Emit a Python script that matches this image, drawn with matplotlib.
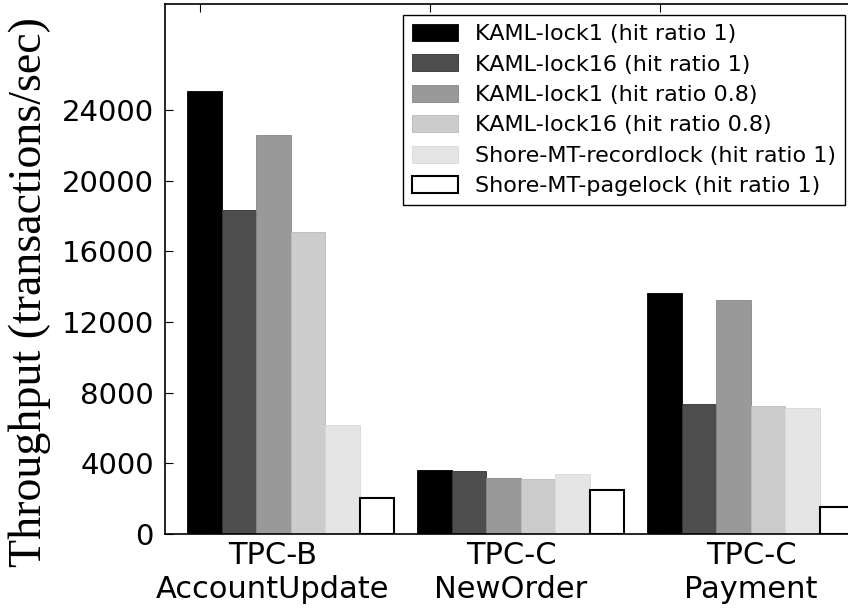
import matplotlib.pyplot as plt
import numpy as np

# workloads on the x axis
groups = ['TPC-B\nAccountUpdate', 'TPC-C\nNewOrder', 'TPC-C\nPayment']

# throughput (transactions/sec) per configuration
kaml_lock1_hit1 = [25100, 3630, 13670]
kaml_lock16_hit1 = [18340, 3540, 7380]
kaml_lock1_hit08 = [22600, 3160, 13260]
kaml_lock16_hit08 = [17100, 3090, 7230]
shore_recordlock = [6150, 3370, 7120]
shore_pagelock = [2050, 2470, 1510]

labels = ['KAML-lock1 (hit ratio 1)', 'KAML-lock16 (hit ratio 1)',
          'KAML-lock1 (hit ratio 0.8)', 'KAML-lock16 (hit ratio 0.8)',
          'Shore-MT-recordlock (hit ratio 1)', 'Shore-MT-pagelock (hit ratio 1)']
series = [kaml_lock1_hit1, kaml_lock16_hit1, kaml_lock1_hit08,
          kaml_lock16_hit08, shore_recordlock, shore_pagelock]
faces = ['#000000', '#4d4d4d', '#999999', '#cccccc', '#e5e5e5', '#ffffff']
edges = ['#000000', '#333333', '#888888', '#bbbbbb', '#d8d8d8', '#000000']
lws = [0.6, 0.6, 0.6, 0.6, 0.6, 1.5]

fig = plt.figure(figsize=(8.48, 6.09), dpi=100)
ax = fig.add_axes([165 / 848, 75 / 609, 725 / 848, 529.7 / 609])
ax.set_axisbelow(True)

ind = np.arange(len(groups))
width = 0.15
for k, vals in enumerate(series):
    ax.bar(ind - 0.055 + k * width, vals, width, align='edge',
           color=faces[k], edgecolor=edges[k], linewidth=lws[k], label=labels[k])

ax.set_xlim(-0.152, 3.0)
ax.set_ylim(0, 30000)
ax.set_yticks(np.arange(0, 28000, 4000))
ax.tick_params(axis='y', labelsize=21, direction='in', length=6, right=True, pad=8)

# group ticks at top, labels sit a bit to the right of them
ax.set_xticks(ind)
ax.set_xticklabels([])
ax.set_xticks([0.317, 1.352, 2.396], minor=True)
ax.set_xticklabels(groups, minor=True, fontsize=22)
ax.tick_params(axis='x', which='major', direction='in', length=6, top=True, bottom=True)
ax.tick_params(axis='x', which='minor', length=0, pad=5)

for sp in ax.spines.values():
    sp.set_linewidth(1.2)

ax.set_ylabel('Throughput (transactions/sec)', family='Liberation Serif', fontsize=33)
ax.yaxis.set_label_coords(-0.157, 0.457)

leg = ax.legend(loc='upper right', bbox_to_anchor=(845 / 848, 1 - 15 / 609),
                bbox_transform=fig.transFigure, borderaxespad=0, fontsize=16,
                fancybox=False, framealpha=1, edgecolor='black',
                handlelength=2.1, handleheight=0.8, handletextpad=0.75,
                labelspacing=0.46, borderpad=0.4)
leg.get_frame().set_linewidth(1.0)

fig.savefig('out.png', dpi=100)
